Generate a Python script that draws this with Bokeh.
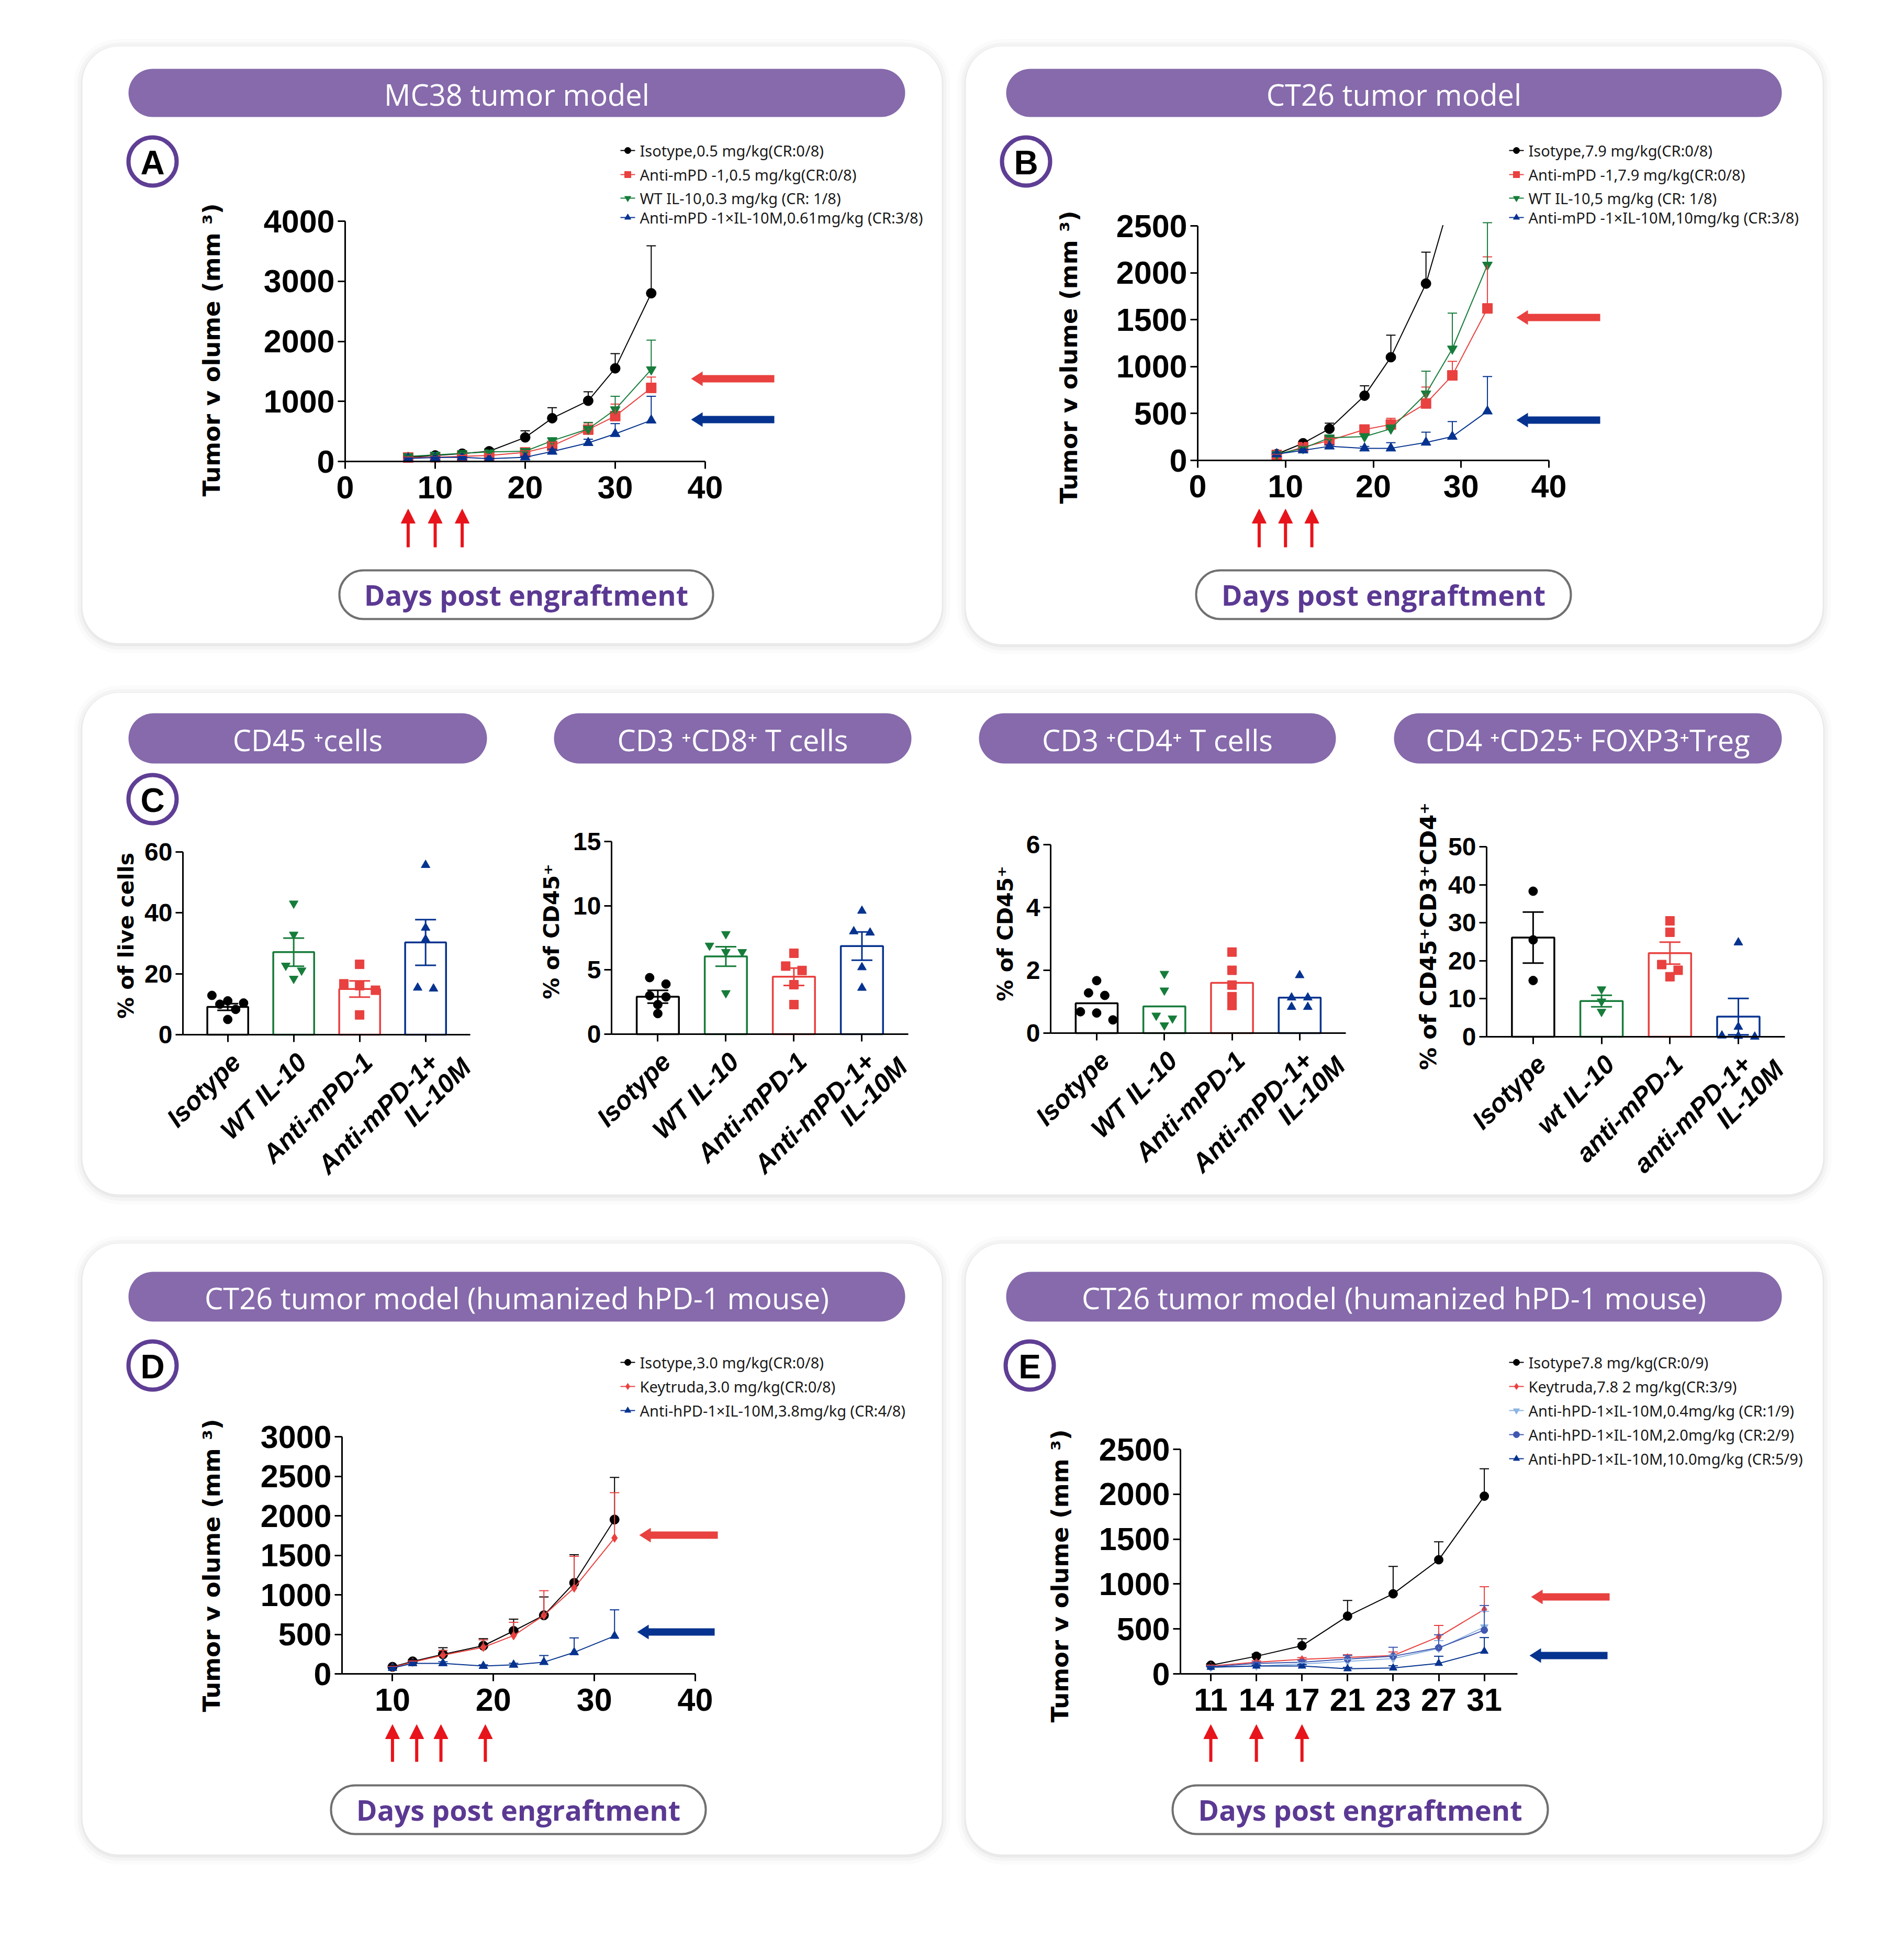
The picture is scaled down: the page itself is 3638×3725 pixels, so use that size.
import math
import numpy as np
from bokeh.plotting import figure
from bokeh.models import (Range1d, LinearAxis, FixedTicker, BoxAnnotation, Arrow, NormalHead,
                          ColumnDataSource, Whisker, TeeHead)
from bokeh.core.properties import value
from bokeh.embed import file_html
from bokeh.resources import INLINE

# ---------------------------------------------------------------- data
# Panel A : MC38
a_days = [7, 10, 13, 16, 20, 23, 27, 30, 34]
a_iso = [70, 100, 130, 170, 400, 720, 1010, 1550, 2800]
a_iso_err = [20, 20, 25, 40, 110, 175, 150, 245, 790]
a_pd1 = [65, 70, 85, 100, 150, 260, 530, 755, 1225]
a_pd1_err = [10, 10, 15, 20, 30, 60, 110, 200, 180]
a_wt = [85, 110, 135, 160, 170, 345, 540, 865, 1530]
a_wt_err = [10, 10, 15, 20, 30, 50, 110, 220, 490]
a_combo = [50, 65, 70, 45, 70, 165, 310, 460, 685]
a_combo_err = [10, 10, 10, 10, 15, 40, 60, 170, 400]
a_dose_days = [7, 10, 13]
a_legend = ["Isotype,0.5 mg/kg(CR:0/8)", "Anti-mPD -1,0.5 mg/kg(CR:0/8)",
            "WT IL-10,0.3 mg/kg (CR: 1/8)", "Anti-mPD -1×IL-10M,0.61mg/kg (CR:3/8)"]

# Panel B : CT26
b_iso_days = [9, 12, 15, 19, 22, 26, 29]
b_iso = [67, 183, 337, 690, 1100, 1885, 2850]
b_iso_err = [10, 20, 60, 105, 235, 335, 400]
b_days = [9, 12, 15, 19, 22, 26, 29, 33]
b_pd1 = [58, 141, 212, 329, 383, 607, 906, 1620]
b_pd1_err = [10, 15, 25, 40, 66, 175, 150, 550]
b_wt = [67, 129, 241, 254, 337, 711, 1190, 2084]
b_wt_err = [10, 15, 30, 30, 40, 240, 380, 450]
b_combo = [67, 108, 150, 129, 129, 191, 254, 524]
b_combo_err = [10, 10, 15, 20, 60, 110, 160, 370]
b_dose_days = [7, 10, 13]
b_legend = ["Isotype,7.9 mg/kg(CR:0/8)", "Anti-mPD -1,7.9 mg/kg(CR:0/8)",
            "WT IL-10,5 mg/kg (CR: 1/8)", "Anti-mPD -1×IL-10M,10mg/kg (CR:3/8)"]

# Panel C : flow cytometry
c_groups = ["Isotype", "WT IL-10", "Anti-mPD-1", "Anti-mPD-1+\nIL-10M"]
c4_groups = ["Isotype", "wt IL-10", "anti-mPD-1", "anti-mPD-1+\nIL-10M"]
c1_points = [[10.4, 11.1, 12.9, 8.3, 10.0, 5.0], [43.1, 32.9, 22.7, 21.1, 18.4],
             [23.1, 16.7, 16.1, 14.6, 6.5], [55.7, 35.1, 31.3, 15.1, 15.4]]
c1_mean = [9.1, 27.1, 15.0, 30.3]
c1_sem = [1.1, 4.6, 2.65, 7.5]
c2_points = [[4.4, 3.9, 3.0, 2.9, 2.3, 1.6], [7.8, 6.9, 6.4, 6.4, 3.2],
             [6.3, 5.3, 4.96, 3.85, 2.3], [9.6, 7.9, 8.0, 5.2, 3.6]]
c2_mean = [2.91, 6.05, 4.47, 6.86]
c2_sem = [0.5, 0.76, 0.68, 1.1]
c3_points = [[1.67, 1.2, 1.28, 0.68, 0.64, 0.42], [1.89, 1.36, 0.56, 0.47, 0.25],
             [2.58, 2.0, 1.53, 1.16, 0.88], [1.84, 1.13, 1.13, 0.83, 0.83]]
c3_mean = [0.95, 0.85, 1.6, 1.13]
c3_sem = None
c4_points = [[38.3, 25.5, 14.8], [12.5, 9.3, 6.6],
             [30.5, 27.5, 19.0, 17.5, 15.8], [24.8, 2.6, 0.3, 0.2, 0.0]]
c4_mean = [26.1, 9.4, 22.0, 5.3]
c4_sem = [6.7, 1.5, 2.9, 4.8]

# Panel D : CT26 humanized
d_days = [10, 12, 15, 19, 22, 25, 28, 32]
d_iso = [89, 158, 247, 356, 543, 741, 1151, 1952]
d_iso_err = [15, 20, 84, 89, 149, 232, 356, 533]
d_key = [84, 148, 237, 336, 484, 741, 1087, 1719]
d_key_err = [10, 15, 60, 94, 168, 311, 400, 573]
d_combo = [74, 133, 133, 99, 114, 148, 272, 479]
d_combo_err = [10, 15, 20, 15, 20, 84, 183, 331]
d_dose_days = [10, 12.4, 14.8, 19.2]
d_legend = ["Isotype,3.0 mg/kg(CR:0/8)", "Keytruda,3.0  mg/kg(CR:0/8)",
            "Anti-hPD-1×IL-10M,3.8mg/kg (CR:4/8)"]

# Panel E : CT26 humanized, dose response
e_days = ["11", "14", "17", "21", "23", "27", "31"]
e_iso = [96, 196, 313, 643, 891, 1270, 1978]
e_iso_err = [15, 25, 78, 174, 305, 200, 305]
e_key = [87, 130, 161, 183, 204, 413, 717]
e_key_err = [10, 15, 20, 30, 40, 126, 253]
e_low = [74, 87, 109, 139, 170, 283, 522]
e_low_err = [8, 10, 15, 25, 40, 87, 174]
e_mid = [78, 117, 130, 165, 196, 291, 487]
e_mid_err = [8, 12, 20, 40, 100, 144, 274]
e_high = [74, 87, 87, 57, 65, 117, 252]
e_high_err = [8, 10, 15, 15, 25, 79, 152]
e_dose_days = ["11", "14", "17"]
e_legend = ["Isotype7.8 mg/kg(CR:0/9)", "Keytruda,7.8  2 mg/kg(CR:3/9)",
            "Anti-hPD-1×IL-10M,0.4mg/kg (CR:1/9)", "Anti-hPD-1×IL-10M,2.0mg/kg (CR:2/9)",
            "Anti-hPD-1×IL-10M,10.0mg/kg (CR:5/9)"]

# ---------------------------------------------------------------- style
BLACK = "#000000"
RED = "#e8413f"
GREEN = "#167c3a"
BLUE = "#06338f"
LBLUE = "#8db4e2"
MBLUE = "#4058b0"
PILL = "#866aab"
RING = "#5f3e95"
DAYS = "#5b3993"
DOSE = "#e8141b"
TICKFONT = "Liberation Sans"

W, H = 3622, 3709
X0, Y0 = 0, 0
p = figure(width=W, height=H, x_range=Range1d(X0, X0 + W), y_range=Range1d(Y0 + H, Y0),
           x_axis_type=None, y_axis_type=None, output_backend="svg", toolbar_location=None,
           min_border=0, outline_line_color=None,
           background_fill_color="white", border_fill_color="white")


def subplot(name, xd, xpx, yd, ypx):
    d0, d1 = xd
    q0, q1 = xpx
    s = (d1 - d0) / (q1 - q0)
    p.extra_x_ranges[name] = Range1d(d0 - (q0 - X0) * s, d1 + (X0 + W - q1) * s)
    e0, e1 = yd
    b, t = ypx
    s = (e1 - e0) / (b - t)
    p.extra_y_ranges[name] = Range1d(e0 - (Y0 + H - b) * s, e1 + (t - Y0) * s)


def style_axis(ax, size):
    ax.axis_line_width = 3
    ax.axis_line_color = "black"
    ax.major_tick_line_width = 3
    ax.major_tick_line_color = "black"
    ax.major_tick_out = 14
    ax.major_tick_in = 0
    ax.minor_tick_line_color = None
    ax.major_label_text_font = TICKFONT
    ax.major_label_text_font_style = "bold"
    ax.major_label_text_font_size = f"{size}px"
    ax.major_label_text_color = "black"


def axes(name, xb, xt, yb, yt, size=61, xover=None, xstandoff=14):
    xa = LinearAxis(x_range_name=name, y_range_name=name, fixed_location=yb[0], bounds=xb,
                    ticker=FixedTicker(ticks=xt))
    ya = LinearAxis(x_range_name=name, y_range_name=name, fixed_location=xb[0], bounds=yb,
                    ticker=FixedTicker(ticks=yt))
    style_axis(xa, size)
    style_axis(ya, size)
    xa.major_label_standoff = xstandoff
    ya.major_label_standoff = 6
    if xover is not None:
        xa.major_label_overrides = xover
    p.add_layout(xa, "below")
    p.add_layout(ya, "left")


def txt(x, y, s, size, color="black", font="Open Sans", style="normal", align="center", angle=0.0):
    p.text(x=[x], y=[y], text=[s], text_font=value(font), text_font_size=f"{size}px",
           text_font_style=style, text_color=color, text_align=align, text_baseline="middle",
           angle=angle)


def box(l, r, t, b, fill, radius, line=None, lw=0, level="underlay"):
    p.add_layout(BoxAnnotation(left=l, right=r, top=t, bottom=b, fill_color=fill, fill_alpha=1,
                               line_color=line, line_alpha=1, line_width=lw,
                               border_radius=int(radius), level=level))


def card(l, r, t, b):
    for d, c in ((16, "#fbfbfb"), (9, "#f4f4f4"), (3, "#eaeaea")):
        box(l - d, r + d, t - d + 2, b + d + 3, c, 70 + d)
    box(l, r, t, b, "white", 70)


def pill(l, r, t, b, title):
    box(l, r, t, b, PILL, (b - t) // 2)
    txt((l + r) / 2, (t + b) / 2 + 2, title, 56, color="white")


def days_pill(l, r, t, b):
    box(l, r, t, b, "white", (b - t) // 2, line="#707070", lw=4)
    txt((l + r) / 2, (t + b) / 2, "Days post engraftment", 54, color=DAYS, style="bold")


def badge(x, y, letter):
    p.scatter(x=[x], y=[y], size=92, marker="circle", fill_color="white",
              line_color=RING, line_width=8)
    txt(x, y + 2, letter, 64, font="Liberation Sans", style="bold")


def harrow(tip, tail, y, color, shaft=14, hl=22, hw=14):
    xs = [tip, tip + hl, tip + hl, tail, tail, tip + hl, tip + hl]
    ys = [y, y - hw, y - shaft / 2, y - shaft / 2, y + shaft / 2, y + shaft / 2, y + hw]
    p.patch(xs, ys, fill_color=color, line_color=None)


def dose_arrows(name, days, tail, tip):
    for d in days:
        p.add_layout(Arrow(x_start=d, x_end=d, y_start=tail, y_end=tip, x_range_name=name,
                           line_color=DOSE, line_width=6,
                           end=NormalHead(size=27, fill_color=DOSE, line_color=DOSE)))


def legend(x0, ys, labels, colors, markers):
    n = len(labels)
    src = ColumnDataSource(dict(x0=[x0] * n, x1=[x0 + 28] * n, xm=[x0 + 14] * n, y=ys,
                                c=colors, m=markers, xt=[x0 + 37] * n, t=labels))
    p.segment("x0", "y", "x1", "y", source=src, line_color="c", line_width=2)
    p.scatter("xm", "y", source=src, marker="m", size=12, fill_color="c", line_color="c")
    p.text("xt", "y", text="t", source=src, text_font=value("Noto Sans"), text_font_size="29px",
           text_baseline="middle", text_color="#1a1a1a")


def series(name, x, y, err, color, marker, size=19, lw=2):
    up = [a + b for a, b in zip(y, err)]
    src = ColumnDataSource(dict(x=x, y=y, up=up))
    p.line("x", "y", source=src, line_color=color, line_width=lw, x_range_name=name, y_range_name=name)
    p.add_layout(Whisker(source=src, base="x", lower="y", upper="up", dimension="height",
                         x_range_name=name, y_range_name=name, line_color=color, line_width=2,
                         upper_head=TeeHead(size=18, line_color=color, line_width=2),
                         lower_head=None, level="annotation"))
    p.scatter("x", "y", source=src, marker=marker, size=size, fill_color=color, line_color=color,
              x_range_name=name, y_range_name=name)


def swarm(vals, span, step=0.24, tol=0.045, maxk=3):
    """spread points with close values side by side (at most maxk per row)"""
    vals = np.asarray(vals, dtype=float)
    order = np.argsort(-vals)
    offs = np.zeros(len(vals))
    clusters = []
    for i in order:
        if (clusters and len(clusters[-1]) < maxk
                and abs(vals[clusters[-1][0]] - vals[i]) < tol * span):
            clusters[-1].append(i)
        else:
            clusters.append([i])
    for cl in clusters:
        k = len(cl)
        for j, i in enumerate(cl):
            offs[i] = (j - (k - 1) / 2) * step
    return offs


GROUP_COLORS = [BLACK, GREEN, RED, BLUE]
GROUP_MARKERS = ["circle", "inverted_triangle", "square", "triangle"]


def bar_panel(name, left_px, spacing, y0_px, ytop_px, ymax, yticks, labels, means, sems, points):
    xl, xr = 0.32, 4.68
    subplot(name, (xl, xr), (left_px, left_px + (xr - xl) * spacing), (0, ymax), (y0_px, ytop_px))
    cats = [1, 2, 3, 4]
    p.vbar(x=cats, top=means, bottom=0, width=0.62, fill_color="white", line_color=GROUP_COLORS,
           line_width=3.5, x_range_name=name, y_range_name=name)
    px, py, pc, pm = [], [], [], []
    for k, vals in enumerate(points):
        offs = swarm(vals, ymax)
        for v, o in zip(vals, offs):
            px.append(cats[k] + o)
            py.append(v)
            pc.append(GROUP_COLORS[k])
            pm.append(GROUP_MARKERS[k])
    psrc = ColumnDataSource(dict(x=px, y=py, c=pc, m=pm))
    p.scatter("x", "y", source=psrc, marker="m", size=17, fill_color="c", line_color="c",
              x_range_name=name, y_range_name=name)
    if sems is not None:
        wsrc = ColumnDataSource(dict(x=cats, lo=[m - s for m, s in zip(means, sems)],
                                     hi=[m + s for m, s in zip(means, sems)], c=GROUP_COLORS))
        p.add_layout(Whisker(source=wsrc, base="x", lower="lo", upper="hi", dimension="height",
                             x_range_name=name, y_range_name=name, line_color="c", line_width=3,
                             upper_head=TeeHead(size=40, line_color="c", line_width=3),
                             lower_head=TeeHead(size=40, line_color="c", line_width=3),
                             level="annotation"))
    axes(name, (xl, xr), cats, (0, ymax), yticks, size=48, xover={c: "" for c in cats})
    # rotated category labels (GraphPad style: second line hangs below and further right)
    lx, ly, lt, ox, oy = [], [], [], [], []
    for c, lab in zip(cats, labels):
        for j, line in enumerate(lab.split("\n")):
            lx.append(c)
            ly.append(0)
            lt.append(line)
            ox.append(16 + 62 * j)
            oy.append(44 + 10 * j)
    lsrc = ColumnDataSource(dict(x=lx, y=ly, t=lt, ox=ox, oy=oy))
    p.text("x", "y", text="t", source=lsrc, x_offset="ox", y_offset="oy", angle=math.pi / 4,
           text_align="right", text_baseline="middle", text_font=value(TICKFONT),
           text_font_size="50px", text_font_style="bold italic", text_color="black",
           x_range_name=name, y_range_name=name)


# ---------------------------------------------------------------- cards & headers
card(157, 1799, 88, 1228)
card(1845, 3482, 88, 1230)
card(157, 3483, 1323, 2281)
card(157, 1799, 2375, 3542)
card(1845, 3482, 2375, 3542)

pill(245, 1729, 131, 223, "MC38 tumor model")
pill(1922, 3404, 131, 223, "CT26 tumor model")
pill(245, 930, 1362, 1458, "CD45 ⁺cells")
pill(1058, 1741, 1362, 1458, "CD3 ⁺CD8⁺ T cells")
pill(1870, 2552, 1362, 1458, "CD3 ⁺CD4⁺ T cells")
pill(2663, 3404, 1362, 1458, "CD4 ⁺CD25⁺ FOXP3⁺Treg")
pill(245, 1729, 2429, 2524, "CT26 tumor model (humanized hPD-1 mouse)")
pill(1922, 3404, 2429, 2524, "CT26 tumor model (humanized hPD-1 mouse)")

days_pill(648, 1362, 1089, 1182)
days_pill(2285, 3001, 1089, 1182)
days_pill(632, 1348, 3410, 3503)
days_pill(2240, 2957, 3410, 3503)

badge(291, 308, "A")
badge(1960, 308, "B")
badge(291, 1526, "C")
badge(291, 2608, "D")
badge(1967, 2608, "E")

YLAB = "Tumor v olume (mm ³)"
txt(404, 668, YLAB, 45, font="DejaVu Sans", style="bold", angle=math.pi / 2)
txt(2042, 682, YLAB, 45, font="DejaVu Sans", style="bold", angle=math.pi / 2)
txt(404, 2990, YLAB, 45, font="DejaVu Sans", style="bold", angle=math.pi / 2)
txt(2025, 3010, YLAB, 45, font="DejaVu Sans", style="bold", angle=math.pi / 2)
txt(240, 1787, "% of live cells", 41, font="DejaVu Sans", style="bold", angle=math.pi / 2)
txt(1053, 1779, "% of CD45⁺", 41, font="DejaVu Sans", style="bold", angle=math.pi / 2)
txt(1920, 1783, "% of CD45⁺", 41, font="DejaVu Sans", style="bold", angle=math.pi / 2)
txt(2728, 1788, "% of CD45⁺CD3⁺CD4⁺", 43, font="DejaVu Sans", style="bold", angle=math.pi / 2)

# ---------------------------------------------------------------- panel A
subplot("A", (0, 40), (659, 1347), (0, 4000), (881, 422))
series("A", a_days, a_iso, a_iso_err, BLACK, "circle")
series("A", a_days, a_pd1, a_pd1_err, RED, "square")
series("A", a_days, a_wt, a_wt_err, GREEN, "inverted_triangle")
series("A", a_days, a_combo, a_combo_err, BLUE, "triangle")
axes("A", (0, 40), [0, 10, 20, 30, 40], (0, 4000), [0, 1000, 2000, 3000, 4000])
dose_arrows("A", a_dose_days, 1045, 972)
harrow(1320, 1479, 723, RED)
harrow(1320, 1479, 801, BLUE)
legend(1185, [287, 333, 378, 415], a_legend, [BLACK, RED, GREEN, BLUE],
       ["circle", "square", "inverted_triangle", "triangle"])

# ---------------------------------------------------------------- panel B
subplot("B", (0, 40), (2288, 2959), (0, 2500), (879, 431))
series("B", b_iso_days, b_iso, b_iso_err, BLACK, "circle")
series("B", b_days, b_pd1, b_pd1_err, RED, "square")
series("B", b_days, b_wt, b_wt_err, GREEN, "inverted_triangle")
series("B", b_days, b_combo, b_combo_err, BLUE, "triangle")
# white mask: curves leaving the 0-2500 frame are cut at the top of the y axis
box(2291, 2820, 290, 429.5, "white", 0, level="annotation")
axes("B", (0, 40), [0, 10, 20, 30, 40], (0, 2500), [0, 500, 1000, 1500, 2000, 2500])
dose_arrows("B", b_dose_days, 1045, 972)
harrow(2897, 3057, 606, RED)
harrow(2897, 3057, 802, BLUE)
legend(2883, [287, 333, 378, 415], b_legend, [BLACK, RED, GREEN, BLUE],
       ["circle", "square", "inverted_triangle", "triangle"])

# ---------------------------------------------------------------- panel C
bar_panel("C1", 349, 126, 1976, 1627, 60, [0, 20, 40, 60], c_groups, c1_mean, c1_sem, c1_points)
bar_panel("C2", 1168, 130, 1975, 1607, 15, [0, 5, 10, 15], c_groups, c2_mean, c2_sem, c2_points)
bar_panel("C3", 2007, 129.3, 1973, 1613, 6, [0, 2, 4, 6], c_groups, c3_mean, c3_sem, c3_points)
bar_panel("C4", 2840, 130.7, 1980, 1617, 50, [0, 10, 20, 30, 40, 50], c4_groups, c4_mean, c4_sem,
          c4_points)

# ---------------------------------------------------------------- panel D
subplot("D", (5, 40), (653, 1328), (0, 3000), (3197, 2744))
series("D", d_days, d_iso, d_iso_err, BLACK, "circle", size=18)
series("D", d_days, d_key, d_key_err, RED, "diamond", size=17)
series("D", d_days, d_combo, d_combo_err, BLUE, "triangle", size=17)
axes("D", (5, 40), [10, 20, 30, 40], (0, 3000), [0, 500, 1000, 1500, 2000, 2500, 3000])
dose_arrows("D", d_dose_days, 3365, 3294)
harrow(1221, 1371, 2932, RED)
harrow(1217, 1365, 3117, BLUE)
legend(1185, [2602, 2648, 2694], d_legend, [BLACK, RED, BLUE], ["circle", "diamond", "triangle"])

# ---------------------------------------------------------------- panel E
e_x = list(range(len(e_days)))
subplot("E", (0, 6), (2313, 2313 + 6 * 87.1), (0, 2500), (3197, 2768))
series("E", e_x, e_iso, e_iso_err, BLACK, "circle", size=17)
series("E", e_x, e_key, e_key_err, RED, "diamond", size=15)
series("E", e_x, e_low, e_low_err, LBLUE, "inverted_triangle", size=15)
series("E", e_x, e_mid, e_mid_err, MBLUE, "circle", size=13)
series("E", e_x, e_high, e_high_err, BLUE, "triangle", size=15)
axes("E", (-0.666, 6.73), e_x, (0, 2500), [0, 500, 1000, 1500, 2000, 2500],
     xover={i: d for i, d in zip(e_x, e_days)})
dose_arrows("E", [e_days.index(d) for d in e_dose_days], 3365, 3294)
harrow(2925, 3075, 3050, RED)
harrow(2922, 3071, 3162, BLUE)
legend(2883, [2602, 2648, 2694, 2740, 2786], e_legend, [BLACK, RED, LBLUE, MBLUE, BLUE],
       ["circle", "diamond", "inverted_triangle", "circle", "triangle"])

open("out.html", "w").write(file_html(p, INLINE))
